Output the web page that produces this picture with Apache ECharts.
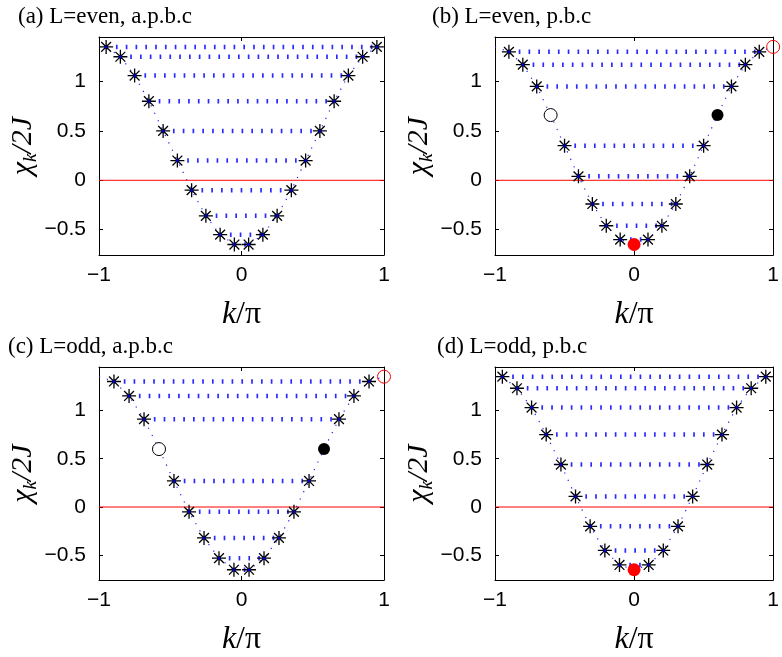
<!DOCTYPE html>
<html>
<head>
<meta charset="utf-8">
<script src="https://cdn.jsdelivr.net/npm/echarts@6/dist/echarts.min.js"></script>
<style>
  html, body { margin: 0; padding: 0; background: #fff; }
  #chart { width: 782px; height: 657px; }
</style>
</head>
<body>
<div id="chart"></div>
<script>
// panel titles
const titles = ['(a) L=even, a.p.b.c', '(b) L=even, p.b.c', '(c) L=odd, a.p.b.c', '(d) L=odd, p.b.c'];

// asterisk pairs: |k|/pi and energy (same value at -k and +k)
const starK_a = [0.05, 0.15, 0.25, 0.35, 0.45, 0.55, 0.65, 0.75, 0.85, 0.95];
const starE_a = [-0.65, -0.55, -0.36, -0.10, 0.20, 0.50, 0.80, 1.06, 1.25, 1.35];
const starK_b = [0.1, 0.2, 0.3, 0.4, 0.5, 0.7, 0.8, 0.9];
const starE_b = [-0.60, -0.46, -0.24, 0.04, 0.35, 0.95, 1.17, 1.30];
const starK_c = [0.053, 0.158, 0.263, 0.368, 0.474, 0.684, 0.789, 0.895];
const starE_c = [-0.65, -0.53, -0.32, -0.05, 0.27, 0.91, 1.15, 1.30];
const starK_d = [0.105, 0.21, 0.316, 0.421, 0.526, 0.632, 0.737, 0.842, 0.947];
const starE_d = [-0.60, -0.45, -0.20, 0.11, 0.44, 0.75, 1.03, 1.23, 1.35];

// circle pair: open at -k, filled at +k  ([k, E] or null)
const circ_a = null;
const circ_b = [0.6, 0.66];
const circ_c = [0.579, 0.60];
const circ_d = null;

// red filled point and red open point
const redFill_a = null, redOpen_a = null;
const redFill_b = [0, -0.65], redOpen_b = [1, 1.35];
const redFill_c = null, redOpen_c = [1, 1.35];
const redFill_d = [0, -0.65], redOpen_d = null;

// value of the dotted curve at the edge k = -1 / +1
const edgeE = [1.35, 1.35, 1.35, 1.35];

// the red reference line E = 0 across the whole k range
const zeroK = [-1, 1];
const zeroE = 0;

const panels = [
  { k: starK_a, e: starE_a, circ: circ_a, redFill: redFill_a, redOpen: redOpen_a },
  { k: starK_b, e: starE_b, circ: circ_b, redFill: redFill_b, redOpen: redOpen_b },
  { k: starK_c, e: starE_c, circ: circ_c, redFill: redFill_c, redOpen: redOpen_c },
  { k: starK_d, e: starE_d, circ: circ_d, redFill: redFill_d, redOpen: redOpen_d }
];

const grids = [
  { left: 99, top: 37, width: 285, height: 218 },
  { left: 495, top: 37, width: 285, height: 218 },
  { left: 99, top: 367, width: 285, height: 218 },
  { left: 495, top: 367, width: 285, height: 218 }
];
const titlePos = [[18, 5], [432, 5], [8, 335], [437, 335]];

const ASTERISK = 'path://M0,6L12,6M6,0L6,12M1.8,1.8L10.2,10.2M10.2,1.8L1.8,10.2';
const minus = v => String(v).replace('-', '\u2212');
const tickFont = { fontFamily: 'Liberation Sans', fontSize: 21, color: '#000' };
const boxLine = () => ({ show: true, onZero: false, lineStyle: { color: '#000', width: 1 } });
const boxTick = () => ({ inside: true, length: 4, lineStyle: { color: '#000' } });

const xAxes = [], yAxes = [], series = [];

function dots(xi, yi, data, size, style) {
  return {
    type: 'scatter', xAxisIndex: xi, yAxisIndex: yi, data: data,
    symbol: 'circle', symbolSize: size, clip: false, silent: true, z: 4,
    itemStyle: Object.assign({ opacity: 1 }, style)
  };
}

panels.forEach((p, i) => {
  xAxes.push({
    gridIndex: i, type: 'value', min: -1, max: 1, interval: 1, position: 'bottom',
    axisLine: boxLine(), axisTick: boxTick(),
    axisLabel: Object.assign({ margin: 10, formatter: minus }, tickFont),
    splitLine: { show: false },
    name: '{i|k}{n|/π}', nameLocation: 'middle', nameGap: 44,
    nameTextStyle: {
      rich: {
        i: { fontFamily: 'Liberation Serif', fontStyle: 'italic', fontSize: 32, color: '#000' },
        n: { fontFamily: 'Liberation Serif', fontSize: 32, color: '#000' }
      }
    }
  });
  xAxes.push({
    gridIndex: i, type: 'value', min: -1, max: 1, interval: 1, position: 'top',
    axisLine: boxLine(), axisTick: boxTick(),
    axisLabel: { show: false }, splitLine: { show: false }
  });
  yAxes.push({
    gridIndex: i, type: 'value', min: -0.756, max: 1.45, position: 'left',
    axisLine: boxLine(), axisTick: boxTick(),
    axisLabel: Object.assign({
      margin: 13, showMinLabel: false, showMaxLabel: false,
      formatter: v => (Math.abs(v * 2 - Math.round(v * 2)) < 1e-6 ? minus(v) : '')
    }, tickFont),
    splitLine: { show: false },
    name: '{c|χ}{s|k}{c|/2J}', nameLocation: 'middle', nameGap: 54,
    nameTextStyle: {
      rich: {
        c: { fontFamily: 'Liberation Serif', fontStyle: 'italic', fontSize: 30, lineHeight: 36, color: '#000' },
        s: { fontFamily: 'Liberation Serif', fontStyle: 'italic', fontSize: 19, lineHeight: 36, verticalAlign: 'bottom', color: '#000' }
      }
    }
  });
  yAxes.push({
    gridIndex: i, type: 'value', min: -0.756, max: 1.45, position: 'right',
    axisLine: boxLine(), axisTick: boxTick(),
    axisLabel: { show: false }, splitLine: { show: false }
  });

  const xi = i * 2, yi = i * 2;
  const stars = [];
  p.k.forEach((k, j) => { stars.push([-k, p.e[j]], [k, p.e[j]]); });

  // dotted dispersion curve through every point, out to the box edges
  const curve = stars.slice();
  curve.push([-1, edgeE[i]]);
  if (p.circ) curve.push([-p.circ[0], p.circ[1]], [p.circ[0], p.circ[1]]);
  if (p.redFill) curve.push(p.redFill.slice());
  if (p.redOpen) curve.push(p.redOpen.slice()); else curve.push([1, edgeE[i]]);
  curve.sort((a, b) => a[0] - b[0]);

  series.push({
    type: 'line', xAxisIndex: xi, yAxisIndex: yi, data: curve, showSymbol: false,
    lineStyle: { color: '#1f1fff', width: 1.2, type: [1.2, 7] }, z: 1, silent: true
  });

  // red zero line
  series.push({
    type: 'line', xAxisIndex: xi, yAxisIndex: yi, data: zeroK.map(k => [k, zeroE]),
    showSymbol: false, silent: true, z: 2,
    lineStyle: { color: '#ff0000', width: 1, type: 'solid' }
  });

  // horizontal rows between each pair
  p.k.forEach((k, j) => {
    series.push({
      type: 'line', xAxisIndex: xi, yAxisIndex: yi, data: [[-k, p.e[j]], [k, p.e[j]]],
      showSymbol: false, silent: true, z: 2,
      lineStyle: { color: '#2b2bff', width: 4.5, type: [1.7, 8.1], cap: 'butt' }
    });
  });

  series.push({
    type: 'scatter', xAxisIndex: xi, yAxisIndex: yi, data: stars, symbol: ASTERISK, symbolSize: 14,
    itemStyle: { color: 'rgba(0,0,0,0)', borderColor: '#000', borderWidth: 1.3, opacity: 1 },
    z: 3, clip: false, silent: true
  });
  series.push(dots(xi, yi, stars, 3, { color: '#0000cc' }));
  if (p.circ) {
    series.push(dots(xi, yi, [[-p.circ[0], p.circ[1]]], 13, { color: '#fff', borderColor: '#000', borderWidth: 1 }));
    series.push(dots(xi, yi, [[p.circ[0], p.circ[1]]], 12, { color: '#000' }));
  }
  if (p.redFill) series.push(dots(xi, yi, [p.redFill], 13, { color: '#ff0000' }));
  if (p.redOpen) {
    series.push(dots(xi, yi, [p.redOpen], 13, { color: 'rgba(255,255,255,0)', borderColor: '#ff0000', borderWidth: 1 }));
  }
});

const chart = echarts.init(document.getElementById('chart'), null, { renderer: 'canvas' });
chart.setOption({
  animation: false,
  backgroundColor: '#fff',
  title: titles.map((t, i) => ({
    text: t, left: titlePos[i][0], top: titlePos[i][1], padding: 0,
    textStyle: { fontFamily: 'Liberation Serif', fontSize: 23, fontWeight: 'normal', color: '#000' }
  })),
  grid: grids,
  xAxis: xAxes,
  yAxis: yAxes,
  series: series
});
</script>
</body>
</html>
